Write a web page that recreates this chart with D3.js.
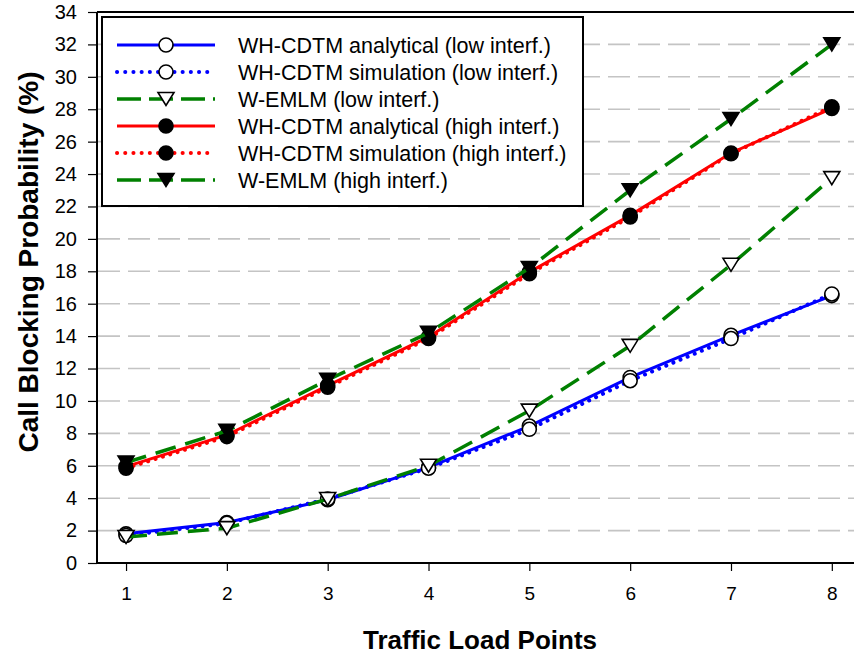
<!DOCTYPE html>
<html><head><meta charset="utf-8">
<script src="https://cdn.jsdelivr.net/npm/d3@7"></script>
<style>body{margin:0;background:#fff}svg{display:block}text{font-family:"Liberation Sans",Arial,sans-serif}</style>
</head><body>
<svg id="c" width="854" height="659"></svg>
<script>
const xValues = [1,2,3,4,5,6,7,8];
const yTicks = [0,2,4,6,8,10,12,14,16,18,20,22,24,26,28,30,32,34];
const lowAnalytical  = [1.8, 2.5, 3.9, 5.9, 8.45, 11.45, 14.05, 16.5];
const lowSimulation  = [1.7, 2.45, 3.95, 5.85, 8.25, 11.25, 13.85, 16.6];
const lowEMLM        = [1.6, 2.15, 3.95, 6.0, 9.4, 13.4, 18.4, 23.75];
const highAnalytical = [5.95, 7.9, 10.95, 13.95, 17.95, 21.45, 25.3, 28.05];
const highSimulation = [5.85, 7.8, 10.85, 13.85, 17.85, 21.35, 25.25, 28.15];
const highEMLM       = [6.2, 8.15, 11.3, 14.2, 18.2, 23.0, 27.4, 32.0];
const seriesNames = [
  "WH-CDTM analytical (low interf.)",
  "WH-CDTM simulation (low interf.)",
  "W-EMLM (low interf.)",
  "WH-CDTM analytical (high interf.)",
  "WH-CDTM simulation (high interf.)",
  "W-EMLM (high interf.)"
];
const xTitle = "Traffic Load Points";
const yTitle = "Call Blocking Probability (%)";

const styles = [
  {color:"#0000ff", dash:null, width:3, marker:"circle", fill:"#fff"},
  {color:"#0000ff", dash:"0.1,7.6", width:4, marker:"circle", fill:"#fff"},
  {color:"#008000", dash:"21,10", width:3.5, marker:"tri", fill:"#fff"},
  {color:"#ff0000", dash:null, width:3, marker:"circle", fill:"#000"},
  {color:"#ff0000", dash:"0.1,7.6", width:4, marker:"circle", fill:"#000"},
  {color:"#008000", dash:"21,10", width:3.5, marker:"tri", fill:"#000"}
];
const allSeries = [lowAnalytical, lowSimulation, lowEMLM, highAnalytical, highSimulation, highEMLM];

const svg = d3.select("#c");
const L = 97, R = 854, T = 12, B = 563;
const x = d3.scaleLinear().domain([0.712, 8.22]).range([L, R]);
const y = d3.scaleLinear().domain([0, 34]).range([B, T]);

// grid
svg.append("g").selectAll("line").data(yTicks.filter(v => v > 0 && v < 34)).join("line")
  .attr("x1", L + 1).attr("x2", R).attr("y1", d => y(d)).attr("y2", d => y(d))
  .attr("stroke", "#c4c4c4").attr("stroke-width", 1.6).attr("stroke-dasharray", "22,8");

// axes
const ya = svg.append("g").attr("transform", `translate(${L},0)`)
  .call(d3.axisLeft(y).tickValues(yTicks).tickSize(9).tickPadding(11).tickFormat(d3.format("d")));
ya.select(".domain").remove();
ya.selectAll(".tick line").attr("stroke", "#000").attr("stroke-width", 1.2);
ya.selectAll("text").attr("font-size", 20).attr("fill", "#000").attr("font-family", "Liberation Sans, Arial, sans-serif");

const xa = svg.append("g").attr("transform", `translate(0,${B})`)
  .call(d3.axisBottom(x).tickValues(xValues).tickSize(8).tickPadding(16).tickFormat(d3.format("d")));
xa.select(".domain").remove();
xa.selectAll(".tick line").attr("stroke", "#000").attr("stroke-width", 1.2);
xa.selectAll("text").attr("font-size", 19).attr("fill", "#000").attr("font-family", "Liberation Sans Narrow, Liberation Sans, Arial, sans-serif");

svg.append("line").attr("x1", L).attr("x2", L).attr("y1", T).attr("y2", B).attr("stroke", "#000").attr("stroke-width", 2);
svg.append("line").attr("x1", L).attr("x2", R).attr("y1", B).attr("y2", B).attr("stroke", "#000").attr("stroke-width", 2);
svg.append("line").attr("x1", L).attr("x2", R).attr("y1", T).attr("y2", T).attr("stroke", "#000").attr("stroke-width", 2);

// titles
svg.append("text").attr("x", 480).attr("y", 649).attr("text-anchor", "middle")
  .attr("font-size", 26).attr("font-weight", "bold").attr("textLength", 234).attr("lengthAdjust", "spacingAndGlyphs").text(xTitle);
svg.append("text").attr("transform", "translate(38,262) rotate(-90)").attr("text-anchor", "middle")
  .attr("font-size", 28).attr("font-weight", "bold").text(yTitle);

function drawMarker(g, type, fill, cx, cy) {
  if (type === "circle") {
    g.append("circle").attr("cx", cx).attr("cy", cy).attr("r", 7)
      .attr("fill", fill).attr("stroke", "#000").attr("stroke-width", 1.6);
  } else {
    const w = 8, h = 13;
    g.append("path").attr("d", `M${cx - w},${cy - h/2}L${cx + w},${cy - h/2}L${cx},${cy + h/2}Z`)
      .attr("fill", fill).attr("stroke", "#000").attr("stroke-width", 1.6).attr("stroke-linejoin", "miter");
  }
}

const line = d3.line().x((d, i) => x(xValues[i])).y(d => y(d));
allSeries.forEach((vals, si) => {
  const s = styles[si];
  const g = svg.append("g");
  g.append("path").attr("d", line(vals)).attr("fill", "none").attr("stroke", s.color)
    .attr("stroke-width", s.width).attr("stroke-dasharray", s.dash)
    .attr("stroke-linecap", s.dash && s.dash.startsWith("0.1") ? "round" : "butt");
  vals.forEach((v, i) => drawMarker(g, s.marker, s.fill, x(xValues[i]), y(v)));
});

// legend
const lg = svg.append("g");
lg.append("rect").attr("x", 102).attr("y", 17).attr("width", 481).attr("height", 189)
  .attr("fill", "#fff").attr("stroke", "#000").attr("stroke-width", 2);
seriesNames.forEach((name, i) => {
  const s = styles[i];
  const cy = 45 + i * 27;
  lg.append("line").attr("x1", 117).attr("x2", 215).attr("y1", cy).attr("y2", cy)
    .attr("stroke", s.color).attr("stroke-width", s.width).attr("stroke-dasharray", s.dash ? (s.dash.startsWith("0.1") ? "0.1,8.1" : "24,8") : null)
    .attr("stroke-linecap", s.dash && s.dash.startsWith("0.1") ? "round" : "butt");
  drawMarker(lg, s.marker, s.fill, 166, cy);
  lg.append("text").attr("x", 238).attr("y", cy + 7.5).attr("font-size", 21.5).attr("fill", "#000").text(name);
});
</script>
</body></html>
